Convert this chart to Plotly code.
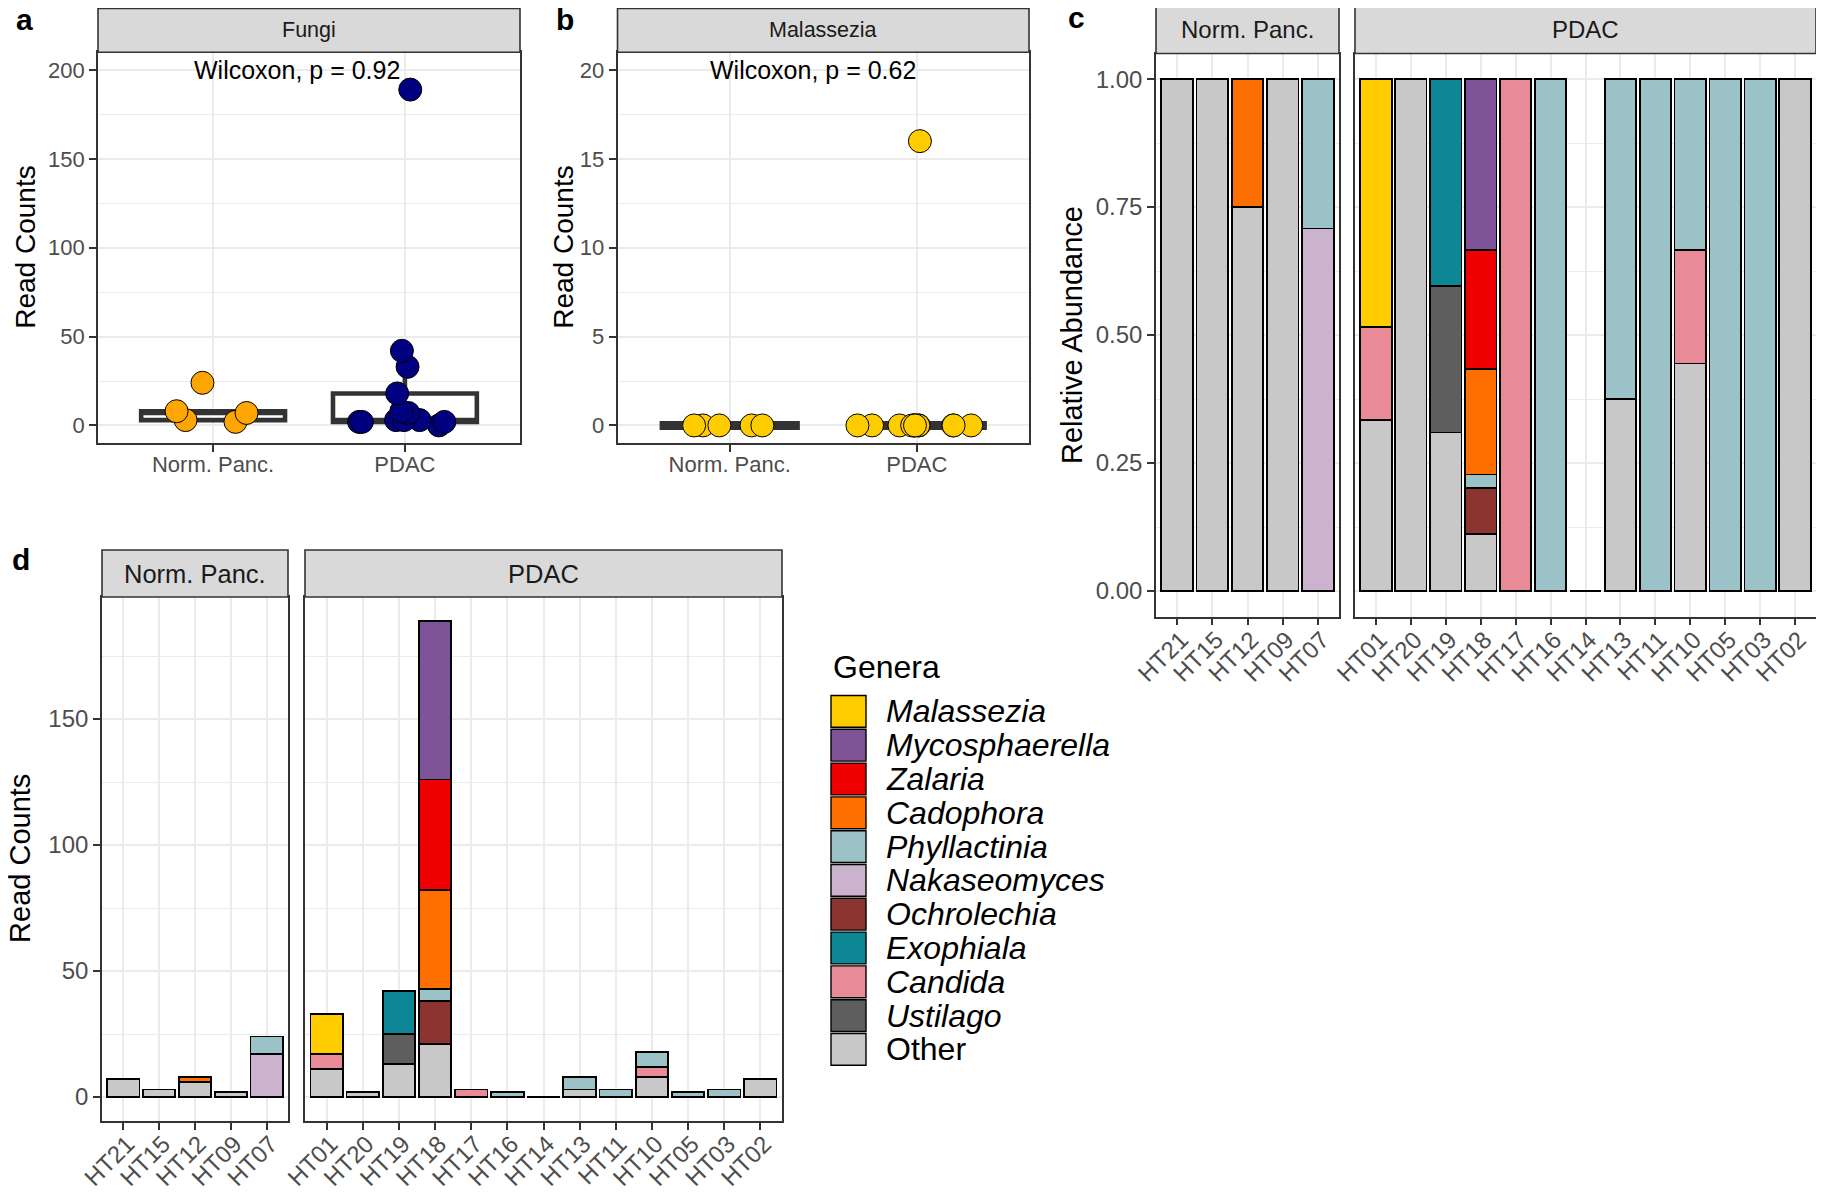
import numpy as np
import plotly.graph_objects as go

W, H = 1824, 1192
OFF = 8  # the page body adds an 8px margin around the figure

# samples, in the order they appear on the x axes
samples = ["HT21", "HT15", "HT12", "HT09", "HT07",
           "HT01", "HT20", "HT19", "HT18", "HT17", "HT16", "HT14",
           "HT13", "HT11", "HT10", "HT05", "HT03", "HT02"]
groups = ["Norm. Panc.", "Norm. Panc.", "Norm. Panc.", "Norm. Panc.", "Norm. Panc.",
          "PDAC", "PDAC", "PDAC", "PDAC", "PDAC", "PDAC", "PDAC",
          "PDAC", "PDAC", "PDAC", "PDAC", "PDAC", "PDAC"]
group_names = ["Norm. Panc.", "PDAC"]

# read counts per genus (same sample order as above)
malassezia     = [0, 0, 0, 0, 0,  16, 0, 0, 0, 0, 0, 0, 0, 0, 0, 0, 0, 0]
mycosphaerella = [0, 0, 0, 0, 0,  0, 0, 0, 63, 0, 0, 0, 0, 0, 0, 0, 0, 0]
zalaria        = [0, 0, 0, 0, 0,  0, 0, 0, 44, 0, 0, 0, 0, 0, 0, 0, 0, 0]
cadophora      = [0, 0, 2, 0, 0,  0, 0, 0, 39, 0, 0, 0, 0, 0, 0, 0, 0, 0]
phyllactinia   = [0, 0, 0, 0, 7,  0, 0, 0, 5, 0, 2, 0, 5, 3, 6, 2, 3, 0]
nakaseomyces   = [0, 0, 0, 0, 17, 0, 0, 0, 0, 0, 0, 0, 0, 0, 0, 0, 0, 0]
ochrolechia    = [0, 0, 0, 0, 0,  0, 0, 0, 17, 0, 0, 0, 0, 0, 0, 0, 0, 0]
exophiala      = [0, 0, 0, 0, 0,  0, 0, 17, 0, 0, 0, 0, 0, 0, 0, 0, 0, 0]
candida        = [0, 0, 0, 0, 0,  6, 0, 0, 0, 3, 0, 0, 0, 0, 4, 0, 0, 0]
ustilago       = [0, 0, 0, 0, 0,  0, 0, 12, 0, 0, 0, 0, 0, 0, 0, 0, 0, 0]
other          = [7, 3, 6, 2, 0,  11, 2, 13, 21, 0, 0, 0, 3, 0, 8, 0, 0, 7]

genera = ["Malassezia", "Mycosphaerella", "Zalaria", "Cadophora", "Phyllactinia",
          "Nakaseomyces", "Ochrolechia", "Exophiala", "Candida", "Ustilago", "Other"]

genus_colors = {
    "Malassezia": "#FFCC00", "Mycosphaerella": "#7E5398", "Zalaria": "#EE0000",
    "Cadophora": "#FF6F00", "Phyllactinia": "#9BC3C7", "Nakaseomyces": "#CCB3CD",
    "Ochrolechia": "#8B3430", "Exophiala": "#0D8696", "Candida": "#E88A98",
    "Ustilago": "#5E5E5E", "Other": "#C8C8C8",
}

counts = np.array([malassezia, mycosphaerella, zalaria, cadophora, phyllactinia,
                   nakaseomyces, ochrolechia, exophiala, candida, ustilago, other], dtype=float)
totals = counts.sum(axis=0)
rel = np.divide(counts, totals, out=np.zeros_like(counts), where=totals > 0)
groups = np.array(groups)
samples = np.array(samples)

FONT = "Liberation Sans, Arial, sans-serif"
BORDER = "#333333"
GRID = "#EBEBEB"
TICK = "#4D4D4D"


def px(x):
    return (x - OFF) / W


def py(y):
    return 1 - (y - OFF) / H


def yaxis(top, bottom, rng, dtick, minor, anchor, size, labels=True, fmt=None):
    d = dict(domain=[py(bottom), py(top)], range=rng, dtick=dtick, tick0=0, anchor=anchor,
             automargin=False, showline=True, mirror=True, linecolor=BORDER, linewidth=1.6,
             ticks="outside" if labels else "", ticklen=7, tickwidth=1.6, tickcolor=BORDER,
             showgrid=True, gridcolor=GRID, gridwidth=2, zeroline=False,
             minor=dict(dtick=minor, tick0=0, showgrid=True, gridcolor=GRID, gridwidth=1),
             showticklabels=labels, tickfont=dict(size=size, color=TICK))
    if fmt:
        d["tickformat"] = fmt
    return d


def xaxis(left, right, cats, anchor, size, angle=0):
    d = dict(domain=[px(left), px(right)], type="category", categoryorder="array",
             categoryarray=list(cats), range=[-0.6, len(cats) - 0.4], anchor=anchor,
             automargin=False, showline=True, mirror=True, linecolor=BORDER, linewidth=1.6,
             ticks="outside", ticklen=7, tickwidth=1.6, tickcolor=BORDER,
             showgrid=True, gridcolor=GRID, gridwidth=2, zeroline=False,
             tickangle=angle, tickfont=dict(size=size, color=TICK))
    if angle:
        d["ticklabelstandoff"] = -9
        d["ticklabelshift"] = 4
    else:
        d["ticklabelstandoff"] = -6
    return d


fig = go.Figure()
shapes = []
annotations = []


def strip(left, right, top, bottom, text, size):
    shapes.append(dict(type="rect", xref="paper", yref="paper", x0=px(left), x1=px(right),
                       y0=py(bottom), y1=py(top), fillcolor="#D9D9D9",
                       line=dict(color=BORDER, width=1.6), layer="above"))
    annotations.append(dict(xref="paper", yref="paper", x=px((left + right) / 2),
                            y=py((top + bottom) / 2), text=text, showarrow=False,
                            xanchor="center", yanchor="middle",
                            font=dict(size=size, color="#1A1A1A")))


def label(x, y, text, size=28, angle=0, bold=False, anchor="center", italic=False):
    if bold:
        text = f"<b>{text}</b>"
    if italic:
        text = f"<i>{text}</i>"
    annotations.append(dict(xref="paper", yref="paper", x=px(x), y=py(y), text=text,
                            showarrow=False, textangle=angle, xanchor=anchor, yanchor="middle",
                            font=dict(size=size, color="black")))


# ---- panels a and b: box plots with jittered points
point_colors = {
    "a": {"Norm. Panc.": "#FFA500", "PDAC": "#000080"},
    "b": {"Norm. Panc.": "#FFCC00", "PDAC": "#FFCC00"},
}
box_width = {"a": 4.6, "b": 9}
jitter = {"Norm. Panc.": 0.6, "PDAC": 1.0}
for key, xa, ya, values in [("a", "x", "y", totals), ("b", "x2", "y2", np.array(malassezia))]:
    for g in group_names:
        mask = groups == g
        fig.add_trace(go.Box(
            x=[g] * int(mask.sum()), y=values[mask], xaxis=xa, yaxis=ya,
            boxpoints="all", jitter=jitter[g], pointpos=0, width=0.75, whiskerwidth=0,
            quartilemethod="inclusive",
            fillcolor="white", line=dict(color=BORDER, width=box_width[key]),
            marker=dict(color=point_colors[key][g], size=23, line=dict(color="black", width=1)),
            showlegend=False, hoverinfo="y",
        ))

# ---- panels c and d: stacked bars, bottom genus first
panels = [("x3", "y3", "Norm. Panc.", rel), ("x4", "y4", "PDAC", rel),
          ("x5", "y5", "Norm. Panc.", counts), ("x6", "y6", "PDAC", counts)]
for xa, ya, g, mat in panels:
    mask = groups == g
    for i in reversed(range(len(genera))):
        fig.add_trace(go.Bar(
            x=samples[mask], y=mat[i][mask], xaxis=xa, yaxis=ya, width=0.9,
            marker=dict(color=genus_colors[genera[i]], line=dict(color="black", width=1.8)),
            name=genera[i], showlegend=False,
        ))

norm_s = samples[groups == "Norm. Panc."]
pdac_s = samples[groups == "PDAC"]

# geometry (pixels)
AB_TOP, AB_BOT = 52.3, 443.2
C_TOP, C_BOT = 53.5, 616.6
D_TOP, D_BOT = 597, 1120.8

fig.update_layout(
    width=W, height=H, margin=dict(l=0, r=0, t=0, b=0, autoexpand=False),
    paper_bgcolor="white", plot_bgcolor="white",
    font=dict(family=FONT, color="black"),
    barmode="stack", boxmode="overlay", showlegend=False,
    xaxis=xaxis(98, 520, group_names, "y", 22),
    yaxis=yaxis(AB_TOP, AB_BOT, [-10, 210], 50, 25, "x", 22),
    xaxis2=xaxis(617.5, 1029, group_names, "y2", 22),
    yaxis2=yaxis(AB_TOP, AB_BOT, [-1, 21], 5, 2.5, "x2", 22),
    xaxis3=xaxis(1156, 1339, norm_s, "y3", 24, -45),
    yaxis3=yaxis(C_TOP, C_BOT, [-0.05, 1.05], 0.25, 0.125, "x3", 24, fmt=".2f"),
    xaxis4=xaxis(1355, 1816, pdac_s, "y4", 24, -45),
    yaxis4=yaxis(C_TOP, C_BOT, [-0.05, 1.05], 0.25, 0.125, "x4", 24, labels=False),
    xaxis5=xaxis(102, 288, norm_s, "y5", 24, -45),
    yaxis5=yaxis(D_TOP, D_BOT, [-9.45, 198.45], 50, 25, "x5", 24),
    xaxis6=xaxis(305, 782, pdac_s, "y6", 24, -45),
    yaxis6=yaxis(D_TOP, D_BOT, [-9.45, 198.45], 50, 25, "x6", 24, labels=False),
)

# strips
strip(98, 520, 8.5, AB_TOP, "Fungi", 21.5)
strip(617.5, 1029, 8.5, AB_TOP, "Malassezia", 21.5)
strip(1156, 1339, 6, C_TOP, "Norm. Panc.", 24)
strip(1355, 1816, 6, C_TOP, "PDAC", 24)
strip(102, 288, 550, D_TOP, "Norm. Panc.", 25.5)
strip(305, 782, 550, D_TOP, "PDAC", 25.5)

# Wilcoxon labels (data coordinates)
annotations.append(dict(xref="x", yref="y", x=0.44, y=200, text="Wilcoxon, p = 0.92",
                        showarrow=False, yanchor="middle", font=dict(size=25, color="black")))
annotations.append(dict(xref="x2", yref="y2", x=0.446, y=20, text="Wilcoxon, p = 0.62",
                        showarrow=False, yanchor="middle", font=dict(size=25, color="black")))

# axis titles
label(26, (AB_TOP + AB_BOT) / 2, "Read Counts", 28, angle=-90)
label(564, (AB_TOP + AB_BOT) / 2, "Read Counts", 28, angle=-90)
label(1072, (C_TOP + C_BOT) / 2, "Relative Abundance", 29, angle=-90)
label(20, (D_TOP + D_BOT) / 2, "Read Counts", 29, angle=-90)

# panel letters
label(24, 19, "a", 30, bold=True)
label(565, 19, "b", 30, bold=True)
label(1076, 17, "c", 30, bold=True)
label(21, 559, "d", 30, bold=True)

# legend built from the genus list
label(831, 667, "Genera", 32, anchor="left")
KEY_TOP, KEY_H = 694.5, 33.8
for i, g in enumerate(genera):
    y0 = KEY_TOP + i * KEY_H
    shapes.append(dict(type="rect", xref="paper", yref="paper", x0=px(831), x1=px(866),
                       y0=py(y0 + KEY_H - 1), y1=py(y0 + 1), fillcolor=genus_colors[g],
                       line=dict(color="black", width=1.4)))
    label(884, y0 + KEY_H / 2, g, 32, anchor="left", italic=(g != "Other"))

fig.update_layout(shapes=shapes, annotations=annotations)

fig.write_html("out.html")
